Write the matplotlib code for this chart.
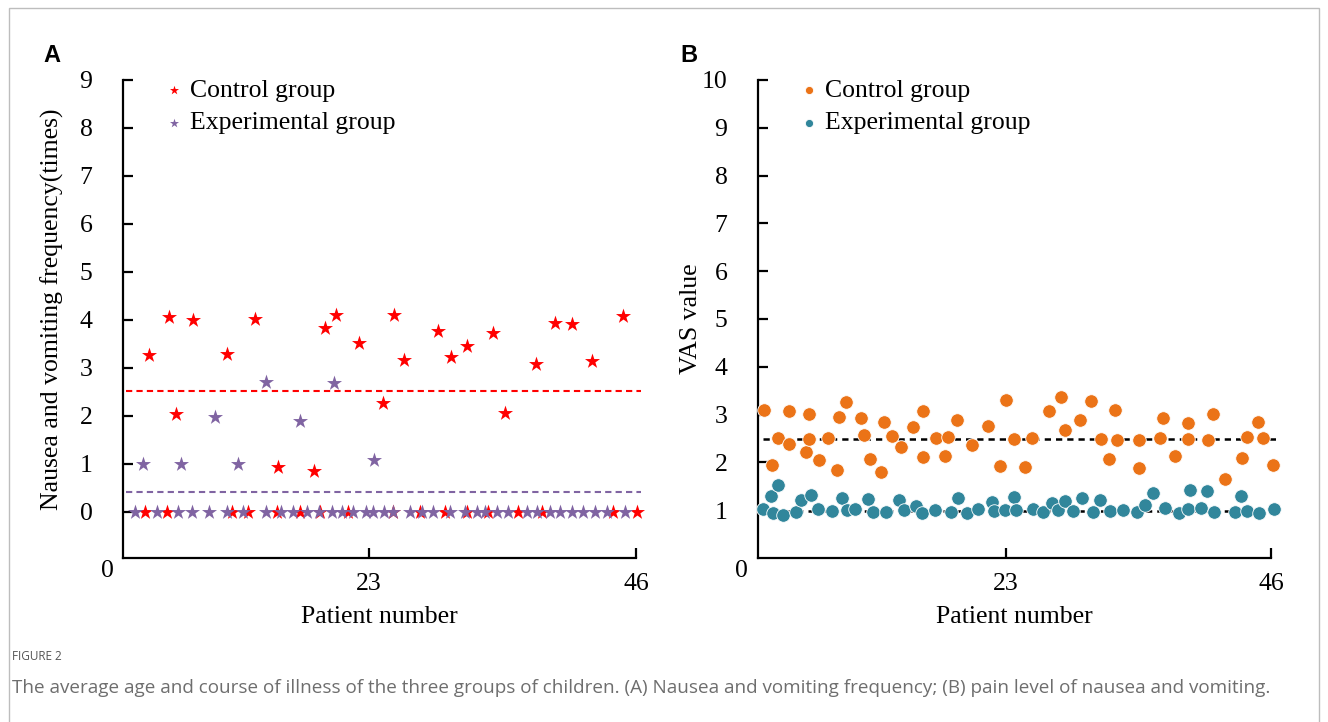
import matplotlib
matplotlib.use("Agg")
import matplotlib.pyplot as plt
from matplotlib.patches import Rectangle

# ── Panel A: nausea / vomiting frequency (position on patient axis, value) ──
ctrl_a_x = [4.05, 5.77, 6.38, 7.84, 10.77, 13.18, 15.16, 18.26, 19.21, 20.16,
            22.14, 24.21, 25.15, 26.01, 28.94, 30.06, 31.44, 33.68, 34.71,
            37.38, 39.02, 40.48, 42.21, 44.88,
            3.71, 5.58, 11.17, 12.60, 15.05, 17.06, 18.78, 21.22, 25.09,
            27.39, 29.55, 31.42, 33.28, 35.86, 37.88, 44.04, 46.06]
ctrl_a_y = [3.26, 4.06, 2.04, 4.00, 3.29, 4.03, 0.93, 0.86, 3.83, 4.11,
            3.51, 2.26, 4.11, 3.17, 3.78, 3.22, 3.45, 3.73, 2.07,
            3.08, 3.94, 3.92, 3.15, 4.09,
            0, 0, 0, 0, 0, 0, 0, 0, 0,
            0, 0, 0, 0, 0, 0, 0, 0]
exp_a_x = [3.51, 6.78, 9.71, 11.69, 14.10, 17.06, 20.01, 23.43,
           2.85, 4.71, 6.57, 7.73, 9.24, 10.74, 12.17, 14.10, 15.39, 16.48,
           17.69, 18.69, 19.84, 20.70, 21.65, 22.72, 23.37, 24.29, 25.09,
           26.53, 27.54, 28.54, 29.98, 31.27, 32.28, 32.99, 34.00, 35.00,
           36.58, 37.44, 38.59, 39.45, 40.46, 41.46, 42.47, 43.47, 45.05]
exp_a_y = [1.00, 1.00, 1.97, 1.00, 2.71, 1.90, 2.69, 1.08] + [0] * 37
mean_a = [2.52, 0.42]          # control, experimental (dashed lines)

# ── Panel B: VAS value ───────────────────────────────────────────────────────
ctrl_b_x = [1.99, 2.69, 3.18, 4.16, 4.19, 5.64, 5.93, 5.93, 6.79, 7.52,
            8.30, 8.50, 9.08, 10.41, 10.67, 11.22, 12.15, 12.43, 13.07, 13.89,
            14.95, 15.77, 15.77, 16.92, 17.68, 17.97, 18.75, 20.02, 21.46,
            22.48, 23.03, 23.67, 24.62, 25.26, 26.73, 27.75, 28.15, 29.45,
            30.35, 31.22, 31.94, 32.49, 32.66, 34.52, 34.55, 36.37, 36.63,
            37.64, 38.80, 38.82, 40.51, 40.97, 41.98, 43.51, 43.95, 44.90,
            45.28, 46.20]
ctrl_b_y = [3.10, 1.94, 2.51, 3.08, 2.38, 2.21, 3.01, 2.50, 2.06, 2.52,
            1.84, 2.96, 3.27, 2.92, 2.58, 2.08, 1.80, 2.85, 2.55, 2.33,
            2.75, 3.08, 2.11, 2.51, 2.14, 2.54, 2.88, 2.36, 2.77,
            1.93, 3.31, 2.49, 1.91, 2.52, 3.08, 3.37, 2.68, 2.89,
            3.28, 2.49, 2.07, 3.10, 2.46, 1.89, 2.47, 2.52, 2.92,
            2.13, 2.50, 2.82, 2.47, 3.02, 1.66, 2.09, 2.54, 2.84,
            2.51, 1.95]
exp_b_x = [1.88, 2.57, 2.80, 3.23, 3.67, 4.77, 5.18, 6.05, 6.65, 7.90,
           8.79, 9.17, 9.92, 10.99, 11.48, 12.58, 13.74, 14.15, 15.21, 15.73,
           16.86, 18.25, 18.80, 19.59, 20.60, 21.81, 21.93, 22.94, 23.72,
           23.84, 25.32, 26.24, 26.97, 27.49, 28.10, 28.79, 29.60, 30.53,
           31.19, 32.03, 33.13, 34.37, 35.09, 35.73, 36.80, 38.02, 38.82,
           38.97, 39.95, 40.47, 41.06, 42.90, 43.37, 43.95, 44.99, 46.24]
exp_b_y = [1.03, 1.30, 0.95, 1.52, 0.91, 0.96, 1.22, 1.32, 1.02, 0.98,
           1.25, 1.00, 1.02, 1.24, 0.96, 0.97, 1.21, 1.00, 1.08, 0.94,
           1.00, 0.96, 1.25, 0.94, 1.03, 1.18, 0.98, 1.01, 1.27,
           1.01, 1.03, 0.96, 1.15, 1.01, 1.19, 0.98, 1.25, 0.96,
           1.21, 0.99, 1.01, 0.96, 1.11, 1.37, 1.04, 0.95, 1.03,
           1.42, 1.04, 1.40, 0.97, 0.96, 1.29, 0.98, 0.95, 1.03]
mean_b = [2.48, 0.98]

RED, PURPLE = "#FF0000", "#8064A2"
ORANGE, TEAL = "#EB7317", "#31869B"
SERIF = "Liberation Serif"
FS = 18.5

W, H = 1328, 722
fig = plt.figure(figsize=(W / 100, H / 100), dpi=100)

# light frame around the whole figure
fig.patches.append(Rectangle((9 / W, -0.01), 1310 / W, 1 - 8 / H + 0.01,
                             transform=fig.transFigure, fill=False,
                             edgecolor="#BDBDBD", linewidth=1.0))


def px_axes(x0, x1, y0, y1):
    return fig.add_axes([x0 / W, 1 - y1 / H, (x1 - x0) / W, (y1 - y0) / H])


def style(ax):
    for s in ("top", "right"):
        ax.spines[s].set_visible(False)
    for s in ("left", "bottom"):
        ax.spines[s].set_linewidth(1.6)
    ax.tick_params(direction="in", length=7, width=1.6,
                   labelsize=FS, pad=11)
    ax.tick_params(axis="y", pad=22)
    for lab in ax.get_xticklabels() + ax.get_yticklabels():
        lab.set_fontfamily(SERIF)


def legend(ax):
    ax.legend(loc="upper left", bbox_to_anchor=(0.04, 1.05), frameon=False,
              prop={"family": SERIF, "size": FS}, markerscale=0.6,
              handlelength=0.6, handletextpad=0.3, labelspacing=0.36)


# ── Panel A ──────────────────────────────────────────────────────────────────
ax_a = px_axes(123, 636, 80, 558)
ax_a.scatter(ctrl_a_x, ctrl_a_y, marker="*", s=130, color=RED,
             linewidths=0, label="Control group", clip_on=False, zorder=3)
ax_a.scatter(exp_a_x, exp_a_y, marker="*", s=130, color=PURPLE,
             linewidths=0, label="Experimental group", clip_on=False, zorder=4)
ax_a.axhline(mean_a[0], xmin=0.005, xmax=1.01, color=RED, ls=(0, (3, 2)),
             lw=1.5, clip_on=False)
ax_a.axhline(mean_a[1], xmin=0.005, xmax=1.01, color=PURPLE, ls=(0, (3, 2)),
             lw=1.5, clip_on=False)
ax_a.set_xlim(1.81, 46)
ax_a.set_ylim(-0.96, 9)
ax_a.set_xticks([23, 46])
ax_a.set_yticks(range(0, 10))
style(ax_a)
ax_a.set_xlabel("Patient number", fontsize=FS, fontfamily=SERIF, labelpad=8)
ax_a.set_ylabel("Nausea and vomiting frequency(times)", fontsize=FS,
                fontfamily=SERIF, labelpad=8)
ax_a.yaxis.set_label_coords(-0.115, 0.52)
ax_a.text(-0.03, -0.005, "0", transform=ax_a.transAxes, ha="center",
          va="top", fontsize=FS, fontfamily=SERIF)
legend(ax_a)

# ── Panel B ──────────────────────────────────────────────────────────────────
ax_b = px_axes(758, 1271, 80, 558)
ax_b.scatter(ctrl_b_x, ctrl_b_y, marker="o", s=95, color=ORANGE,
             edgecolors="white", linewidths=0.6, label="Control group",
             clip_on=False, zorder=3)
ax_b.scatter(exp_b_x, exp_b_y, marker="o", s=95, color=TEAL,
             edgecolors="white", linewidths=0.6, label="Experimental group",
             clip_on=False, zorder=3)
for m in mean_b:
    ax_b.axhline(m, xmin=0.01, xmax=1.01, color="black", ls=(0, (2.5, 2)),
                 lw=1.8, clip_on=False, zorder=2)
ax_b.set_xlim(1.47, 46)
ax_b.set_ylim(0, 10)
ax_b.set_xticks([23, 46])
ax_b.set_yticks(range(1, 11))
style(ax_b)
ax_b.set_xlabel("Patient number", fontsize=FS, fontfamily=SERIF, labelpad=8)
ax_b.set_ylabel("VAS value", fontsize=FS, fontfamily=SERIF, labelpad=0)
ax_b.text(-0.032, -0.005, "0", transform=ax_b.transAxes, ha="center",
          va="top", fontsize=FS, fontfamily=SERIF)
legend(ax_b)

# ── Panel letters and caption ────────────────────────────────────────────────
fig.text(43 / W, 1 - 55 / H, "A", fontsize=17, fontweight="bold",
         fontfamily="Liberation Sans", va="center")
fig.text(680 / W, 1 - 55 / H, "B", fontsize=17, fontweight="bold",
         fontfamily="Liberation Sans", va="center")
fig.text(12 / W, 1 - 657 / H, "FIGURE 2", fontsize=8.5, color="#555555",
         fontfamily="Open Sans", va="center")
fig.text(12 / W, 1 - 688 / H,
         "The average age and course of illness of the three groups of "
         "children. (A) Nausea and vomiting frequency; (B) pain level of "
         "nausea and vomiting.",
         fontsize=13.6, color="#6E6E6E", fontfamily="Open Sans", va="center")

fig.savefig("out.png", dpi=100, facecolor="white")
